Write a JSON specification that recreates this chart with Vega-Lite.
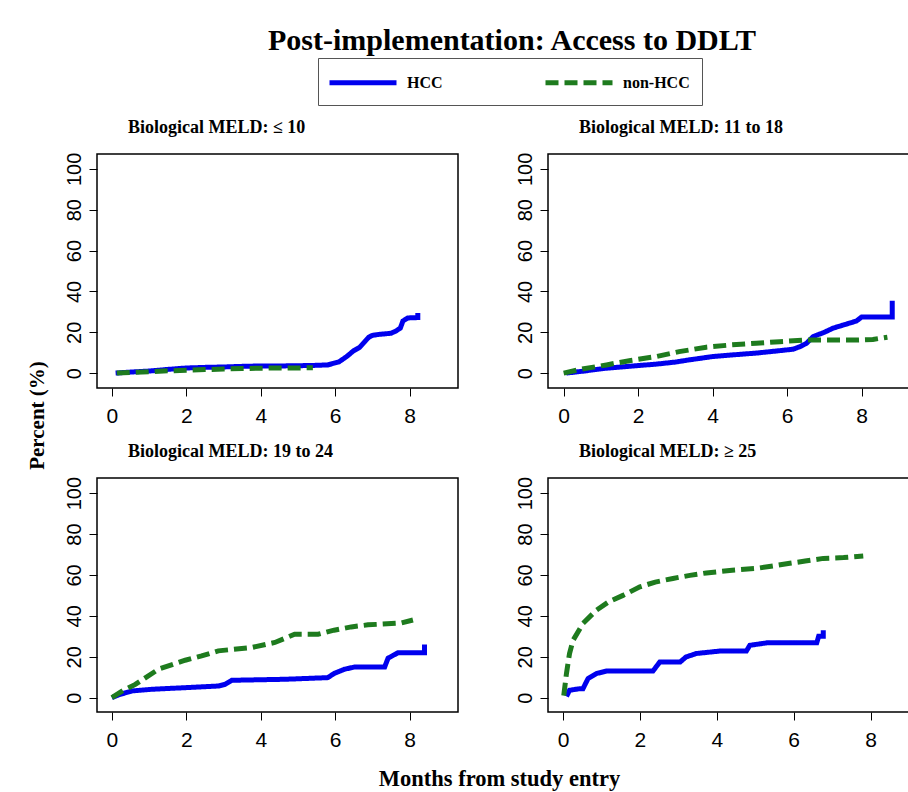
{
  "$schema": "https://vega.github.io/schema/vega-lite/v6.json",
  "padding": {"left": 25, "top": 25, "right": 0, "bottom": 0},
  "background": "white",
  "title": {"text": "Post-implementation: Access to DDLT", "font": "Liberation Serif", "fontWeight": "bold", "fontSize": 30, "color": "#000", "anchor": "middle", "frame": "group", "dx": 415, "offset": -22, "baseline": "alphabetic"},
  "datasets": {
    "p1": [
      {"t":0.1,"v":0,"g":"HCC"},{"t":0.5,"v":0.5,"g":"HCC"},{"t":1.0,"v":1.0,"g":"HCC"},{"t":1.5,"v":1.8,"g":"HCC"},{"t":2.0,"v":2.5,"g":"HCC"},{"t":2.5,"v":2.8,"g":"HCC"},{"t":3.0,"v":3.0,"g":"HCC"},{"t":3.5,"v":3.3,"g":"HCC"},{"t":4.0,"v":3.5,"g":"HCC"},{"t":4.5,"v":3.5,"g":"HCC"},{"t":5.0,"v":3.6,"g":"HCC"},{"t":5.5,"v":3.8,"g":"HCC"},{"t":5.8,"v":4.0,"g":"HCC"},{"t":6.0,"v":5.0,"g":"HCC"},{"t":6.1,"v":5.5,"g":"HCC"},{"t":6.3,"v":8.0,"g":"HCC"},{"t":6.5,"v":11.0,"g":"HCC"},{"t":6.65,"v":12.5,"g":"HCC"},{"t":6.8,"v":15.5,"g":"HCC"},{"t":6.9,"v":17.5,"g":"HCC"},{"t":7.0,"v":18.5,"g":"HCC"},{"t":7.2,"v":19.0,"g":"HCC"},{"t":7.5,"v":19.5,"g":"HCC"},{"t":7.62,"v":20.5,"g":"HCC"},{"t":7.75,"v":22.0,"g":"HCC"},{"t":7.82,"v":25.5,"g":"HCC"},{"t":7.95,"v":27.0,"g":"HCC"},{"t":8.22,"v":27.2,"g":"HCC"},{"t":8.22,"v":29.4,"g":"HCC"},
      {"t":0.13,"v":0,"g":"non-HCC"},{"t":0.5,"v":0.3,"g":"non-HCC"},{"t":1.0,"v":0.7,"g":"non-HCC"},{"t":1.5,"v":1.1,"g":"non-HCC"},{"t":2.0,"v":1.4,"g":"non-HCC"},{"t":2.5,"v":1.7,"g":"non-HCC"},{"t":3.0,"v":2.0,"g":"non-HCC"},{"t":3.5,"v":2.2,"g":"non-HCC"},{"t":4.0,"v":2.4,"g":"non-HCC"},{"t":4.5,"v":2.5,"g":"non-HCC"},{"t":5.0,"v":2.5,"g":"non-HCC"},{"t":5.4,"v":2.6,"g":"non-HCC"}
    ],
    "p2": [
      {"t":0.07,"v":0,"g":"HCC"},{"t":0.5,"v":0.9,"g":"HCC"},{"t":1.15,"v":2.4,"g":"HCC"},{"t":1.8,"v":3.4,"g":"HCC"},{"t":2.49,"v":4.4,"g":"HCC"},{"t":3.0,"v":5.4,"g":"HCC"},{"t":3.38,"v":6.5,"g":"HCC"},{"t":4.0,"v":8.1,"g":"HCC"},{"t":4.6,"v":9.0,"g":"HCC"},{"t":5.17,"v":9.8,"g":"HCC"},{"t":5.7,"v":10.8,"g":"HCC"},{"t":6.16,"v":11.7,"g":"HCC"},{"t":6.35,"v":13.0,"g":"HCC"},{"t":6.52,"v":14.6,"g":"HCC"},{"t":6.7,"v":17.9,"g":"HCC"},{"t":7.0,"v":20.0,"g":"HCC"},{"t":7.23,"v":22.0,"g":"HCC"},{"t":7.5,"v":23.5,"g":"HCC"},{"t":7.86,"v":25.5,"g":"HCC"},{"t":8.0,"v":27.5,"g":"HCC"},{"t":8.82,"v":27.5,"g":"HCC"},{"t":8.82,"v":35.4,"g":"HCC"},
      {"t":0.0,"v":0,"g":"non-HCC"},{"t":0.5,"v":2.0,"g":"non-HCC"},{"t":1.15,"v":4.0,"g":"non-HCC"},{"t":1.8,"v":6.2,"g":"non-HCC"},{"t":2.49,"v":8.1,"g":"non-HCC"},{"t":3.1,"v":10.5,"g":"non-HCC"},{"t":3.83,"v":12.7,"g":"non-HCC"},{"t":4.5,"v":13.8,"g":"non-HCC"},{"t":5.17,"v":14.6,"g":"non-HCC"},{"t":5.8,"v":15.4,"g":"non-HCC"},{"t":6.52,"v":16.2,"g":"non-HCC"},{"t":7.2,"v":16.2,"g":"non-HCC"},{"t":7.86,"v":16.2,"g":"non-HCC"},{"t":8.3,"v":16.5,"g":"non-HCC"},{"t":8.69,"v":17.6,"g":"non-HCC"}
    ],
    "p3": [
      {"t":0.0,"v":0,"g":"HCC"},{"t":0.2,"v":1.5,"g":"HCC"},{"t":0.54,"v":3.3,"g":"HCC"},{"t":1.07,"v":4.1,"g":"HCC"},{"t":1.97,"v":4.9,"g":"HCC"},{"t":2.86,"v":5.7,"g":"HCC"},{"t":3.04,"v":6.5,"g":"HCC"},{"t":3.22,"v":8.5,"g":"HCC"},{"t":4.65,"v":9.0,"g":"HCC"},{"t":5.8,"v":9.8,"g":"HCC"},{"t":5.97,"v":11.8,"g":"HCC"},{"t":6.25,"v":13.9,"g":"HCC"},{"t":6.52,"v":15.0,"g":"HCC"},{"t":7.33,"v":15.0,"g":"HCC"},{"t":7.42,"v":19.3,"g":"HCC"},{"t":7.69,"v":22.0,"g":"HCC"},{"t":8.4,"v":22.0,"g":"HCC"},{"t":8.4,"v":26.0,"g":"HCC"},
      {"t":0.0,"v":0,"g":"non-HCC"},{"t":0.3,"v":3.5,"g":"non-HCC"},{"t":0.63,"v":6.5,"g":"non-HCC"},{"t":1.25,"v":13.9,"g":"non-HCC"},{"t":1.97,"v":18.3,"g":"non-HCC"},{"t":2.41,"v":20.4,"g":"non-HCC"},{"t":2.86,"v":22.9,"g":"non-HCC"},{"t":3.75,"v":24.5,"g":"non-HCC"},{"t":4.38,"v":27.0,"g":"non-HCC"},{"t":4.91,"v":31.0,"g":"non-HCC"},{"t":5.54,"v":31.0,"g":"non-HCC"},{"t":5.97,"v":33.0,"g":"non-HCC"},{"t":6.43,"v":34.6,"g":"non-HCC"},{"t":6.88,"v":35.6,"g":"non-HCC"},{"t":7.77,"v":36.5,"g":"non-HCC"},{"t":8.09,"v":38.0,"g":"non-HCC"}
    ],
    "p4": [
      {"t":0.09,"v":0.6,"g":"HCC"},{"t":0.17,"v":3.6,"g":"HCC"},{"t":0.43,"v":4.4,"g":"HCC"},{"t":0.52,"v":4.4,"g":"HCC"},{"t":0.65,"v":9.3,"g":"HCC"},{"t":0.87,"v":11.8,"g":"HCC"},{"t":1.13,"v":13.0,"g":"HCC"},{"t":2.34,"v":13.0,"g":"HCC"},{"t":2.52,"v":17.5,"g":"HCC"},{"t":3.05,"v":17.5,"g":"HCC"},{"t":3.2,"v":19.9,"g":"HCC"},{"t":3.47,"v":21.6,"g":"HCC"},{"t":4.08,"v":22.8,"g":"HCC"},{"t":4.77,"v":22.8,"g":"HCC"},{"t":4.86,"v":25.6,"g":"HCC"},{"t":5.3,"v":26.8,"g":"HCC"},{"t":6.6,"v":26.8,"g":"HCC"},{"t":6.65,"v":30.0,"g":"HCC"},{"t":6.77,"v":30.0,"g":"HCC"},{"t":6.77,"v":33.0,"g":"HCC"},
      {"t":0.02,"v":1.0,"g":"non-HCC"},{"t":0.09,"v":11.8,"g":"non-HCC"},{"t":0.17,"v":21.6,"g":"non-HCC"},{"t":0.26,"v":28.0,"g":"non-HCC"},{"t":0.52,"v":36.3,"g":"non-HCC"},{"t":0.87,"v":42.8,"g":"non-HCC"},{"t":1.2,"v":47.0,"g":"non-HCC"},{"t":1.56,"v":50.0,"g":"non-HCC"},{"t":2.0,"v":54.2,"g":"non-HCC"},{"t":2.4,"v":56.5,"g":"non-HCC"},{"t":2.86,"v":58.3,"g":"non-HCC"},{"t":3.3,"v":59.8,"g":"non-HCC"},{"t":3.73,"v":61.0,"g":"non-HCC"},{"t":4.4,"v":62.3,"g":"non-HCC"},{"t":5.03,"v":63.2,"g":"non-HCC"},{"t":5.5,"v":64.5,"g":"non-HCC"},{"t":5.9,"v":65.7,"g":"non-HCC"},{"t":6.3,"v":66.8,"g":"non-HCC"},{"t":6.77,"v":68.1,"g":"non-HCC"},{"t":7.3,"v":68.5,"g":"non-HCC"},{"t":7.81,"v":69.3,"g":"non-HCC"}
    ]
  },
  "columns": 2,
  "bounds": "flush",
  "spacing": {"row": 90, "column": 90},
  "concat": [
    {
      "width": 361, "height": 234,
      "title": {"text": "Biological MELD: ≤ 10"},
      "data": {"name": "p1"},
      "mark": {"type": "line", "strokeWidth": 5},
      "encoding": {
        "x": {"field": "t", "type": "quantitative", "scale": {"domain": [-0.4, 9.3], "nice": false, "zero": false}, "axis": {"values": [0,2,4,6,8], "title": null}},
        "y": {"field": "v", "type": "quantitative", "scale": {"domain": [-7.3, 107.3], "nice": false, "zero": false}, "axis": {"values": [0,20,40,60,80,100], "title": "Percent (%)", "titleX": -60, "titleY": 261, "titleAngle": 270, "titleAlign": "center", "titleBaseline": "middle", "titleFont": "Liberation Serif", "titleFontWeight": "bold", "titleFontSize": 21, "titleColor": "#000"}},
        "color": {"field": "g", "type": "nominal", "scale": {"domain": ["HCC", "non-HCC"], "range": ["#0000ee", "#1e7b1e"]}, "legend": {"title": null}},
        "strokeDash": {"field": "g", "type": "nominal", "scale": {"domain": ["HCC", "non-HCC"], "range": [[1, 0], [13, 6]]}, "legend": {"title": null}},
        "order": {"value": null}
      }
    },
    {
      "width": 361, "height": 234,
      "title": {"text": "Biological MELD: 11 to 18"},
      "data": {"name": "p2"},
      "mark": {"type": "line", "strokeWidth": 5},
      "encoding": {
        "x": {"field": "t", "type": "quantitative", "scale": {"domain": [-0.42, 9.27], "nice": false, "zero": false}, "axis": {"values": [0,2,4,6,8], "title": null}},
        "y": {"field": "v", "type": "quantitative", "scale": {"domain": [-7.3, 107.3], "nice": false, "zero": false}, "axis": {"values": [0,20,40,60,80,100], "title": null}},
        "color": {"field": "g", "type": "nominal", "scale": {"domain": ["HCC", "non-HCC"], "range": ["#0000ee", "#1e7b1e"]}, "legend": {"title": null}},
        "strokeDash": {"field": "g", "type": "nominal", "scale": {"domain": ["HCC", "non-HCC"], "range": [[1, 0], [13, 6]]}, "legend": {"title": null}},
        "order": {"value": null}
      }
    },
    {
      "width": 361, "height": 234,
      "title": {"text": "Biological MELD: 19 to 24"},
      "data": {"name": "p3"},
      "mark": {"type": "line", "strokeWidth": 5},
      "encoding": {
        "x": {"field": "t", "type": "quantitative", "scale": {"domain": [-0.4, 9.3], "nice": false, "zero": false}, "axis": {"values": [0,2,4,6,8], "title": "Months from study entry", "titleX": 402, "titleY": 73, "titleAlign": "center", "titleBaseline": "alphabetic", "titleFont": "Liberation Serif", "titleFontWeight": "bold", "titleFontSize": 22.5, "titleColor": "#000"}},
        "y": {"field": "v", "type": "quantitative", "scale": {"domain": [-7, 107.4], "nice": false, "zero": false}, "axis": {"values": [0,20,40,60,80,100], "title": null}},
        "color": {"field": "g", "type": "nominal", "scale": {"domain": ["HCC", "non-HCC"], "range": ["#0000ee", "#1e7b1e"]}, "legend": {"title": null}},
        "strokeDash": {"field": "g", "type": "nominal", "scale": {"domain": ["HCC", "non-HCC"], "range": [[1, 0], [13, 6]]}, "legend": {"title": null}},
        "order": {"value": null}
      }
    },
    {
      "width": 361, "height": 234,
      "title": {"text": "Biological MELD: ≥ 25"},
      "data": {"name": "p4"},
      "mark": {"type": "line", "strokeWidth": 5},
      "encoding": {
        "x": {"field": "t", "type": "quantitative", "scale": {"domain": [-0.39, 9.0], "nice": false, "zero": false}, "axis": {"values": [0,2,4,6,8], "title": null}},
        "y": {"field": "v", "type": "quantitative", "scale": {"domain": [-7, 107.4], "nice": false, "zero": false}, "axis": {"values": [0,20,40,60,80,100], "title": null}},
        "color": {"field": "g", "type": "nominal", "scale": {"domain": ["HCC", "non-HCC"], "range": ["#0000ee", "#1e7b1e"]}, "legend": {"title": null}},
        "strokeDash": {"field": "g", "type": "nominal", "scale": {"domain": ["HCC", "non-HCC"], "range": [[1, 0], [13, 6]]}, "legend": {"title": null}},
        "order": {"value": null}
      }
    }
  ],
  "resolve": {"scale": {"x": "independent", "y": "independent"}},
  "config": {
    "view": {"stroke": "#000", "strokeWidth": 1.5},
    "title": {"font": "Liberation Serif", "fontWeight": "bold", "fontSize": 18, "color": "#000", "anchor": "start", "frame": "group", "dx": 31, "offset": 15, "baseline": "alphabetic"},
    "axis": {"domain": false, "grid": false, "ticks": true, "tickSize": 8, "tickColor": "#000", "tickWidth": 1, "labelFont": "Liberation Sans", "labelFontSize": 20, "labelColor": "#000", "labelPadding": 4},
    "axisX": {"labelFontSize": 21, "labelPadding": 9},
    "axisY": {"labelAngle": 270, "labelAlign": "center", "labelBaseline": "bottom", "labelPadding": 5},
    "legend": {"orient": "none", "legendX": 221, "legendY": -96, "direction": "horizontal", "strokeColor": "#555", "padding": 12, "symbolType": "M-1.3,0H5.4", "symbolSize": 400, "symbolStrokeWidth": 5, "labelFont": "Liberation Serif", "labelFontWeight": "bold", "labelFontSize": 16, "labelColor": "#000", "labelOffset": 52, "columnPadding": 92}
  }
}
